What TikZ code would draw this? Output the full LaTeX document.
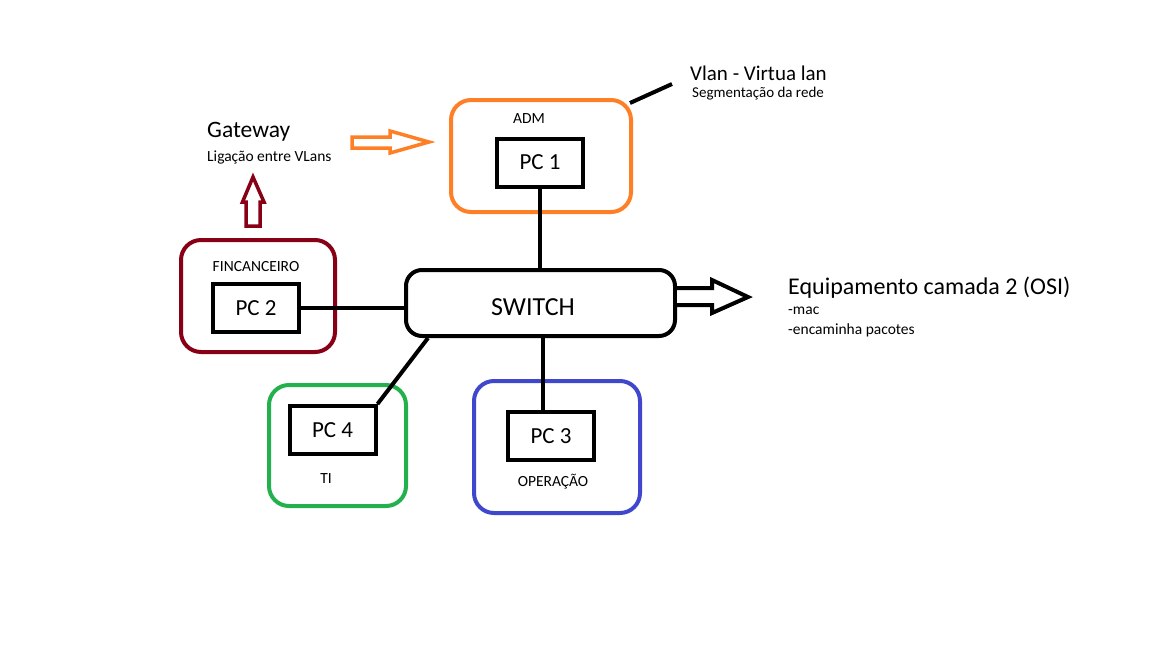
\documentclass[tikz,border=0pt]{standalone}
\usepackage{fontspec}
\setmainfont{Carlito}
\usetikzlibrary{positioning}
\definecolor{admorange}{HTML}{FF7F27}
\definecolor{finred}{HTML}{880015}
\definecolor{tigreen}{HTML}{22B14C}
\definecolor{opblue}{HTML}{3F48CC}

\tikzset{
    vlanbox/.style={draw, line width=4pt, rounded corners=20pt},
    pcbox/.style={draw, line width=4pt, minimum width=86pt, minimum height=48pt,
        font=\fontsize{23}{26}\selectfont},
    small/.style={inner sep=0pt, font=\fontsize{15.5}{18}\selectfont},
    big/.style={inner sep=0pt, anchor=west, font=\fontsize{23.5}{27}\selectfont},
    link/.style={line width=4pt},
    hollow/.style={line width=3.5pt, line join=miter, fill=white},
}

\begin{document}
\begin{tikzpicture}[x=1pt, y=-1pt]
    \useasboundingbox (0,0) rectangle (1152,648);

    % vlan groups
    \node (adm) [vlanbox, admorange, minimum width=180pt, minimum height=112pt] at (541,156) {};
    \node (fin) [vlanbox, finred, minimum width=154pt, minimum height=112pt] at (258,296) {};
    \node (ti) [vlanbox, tigreen, minimum width=137pt, minimum height=121pt] at (337.5,445.5) {};
    \node (op) [vlanbox, opblue, minimum width=166pt, minimum height=132pt] at (557,447) {};

    % computers
    \node (pc1) [pcbox] at (540,162.5) {PC 1};
    \node (pc2) [pcbox] at (256,308) {PC 2};
    \node (pc4) [pcbox] at (332.5,430) {PC 4};
    \node (pc3) [pcbox] at (551,436) {PC 3};

    \node (admlabel) [small] at (529,119) {ADM};
    \node (finlabel) [small] at (256,267) {FINCANCEIRO};
    \node (tilabel) [small] at (326,479) {TI};
    \node (oplabel) [small] at (553,482) {OPERAÇÃO};

    % switch
    \node (sw) [draw, line width=4pt, rounded corners=16pt, minimum width=269pt,
        minimum height=66pt] at (540.5,303) {};
    \node (swlabel) [font=\fontsize{26}{30}\selectfont] at (533,307) {SWITCH};

    \draw[link] (pc1.south) -- (pc1.south |- sw.north);
    \draw[link] (pc2.east) -- (pc2.east -| sw.west);
    \draw[link] ([xshift=-8pt]pc3.north) -- ([xshift=-8pt]pc3.north |- sw.south);
    \draw[link] (pc4.north east) -- ([xshift=24pt]sw.south west);

    % notes
    \node (gw) [big] at (207,132) {Gateway};
    \node (gwnote) [small, anchor=west] at (207,157) {Ligação entre VLans};
    \node (vlan) [big, font=\fontsize{21}{24}\selectfont] at (690,73) {Vlan - Virtua lan};
    \node (vlannote) [small, anchor=west, font=\fontsize{15}{18}\selectfont] at (692,94) {Segmentação da rede};
    \node (eq) [big, font=\fontsize{24}{28}\selectfont] at (788,288) {Equipamento camada 2 (OSI)};
    \node (mac) [small, anchor=west] at (788,311) {-mac};
    \node (enc) [small, anchor=west] at (788,330) {-encaminha pacotes};

    \coordinate (vlantip) at (672,84);
    \draw[link] ([shift={(-3,5)}]adm.north east) -- (vlantip);

    % hollow arrows
    \draw[hollow, draw=admorange] (352,137) -- (390,137) -- (390,131) -- (429,142)
        -- (390,153) -- (390,148) -- (352,148) -- cycle;
    \draw[hollow, draw=finred] (246,226) -- (246,202) -- (242.5,202) -- (253,177)
        -- (264,202) -- (260,202) -- (260,226) -- cycle;
    \draw[hollow, line width=4pt, draw=black] (sw.east |- 0,288) -- (712,288) -- (712,280) -- (748,297)
        -- (712,313) -- (712,305) -- (sw.east |- 0,305);
\end{tikzpicture}
\end{document}
